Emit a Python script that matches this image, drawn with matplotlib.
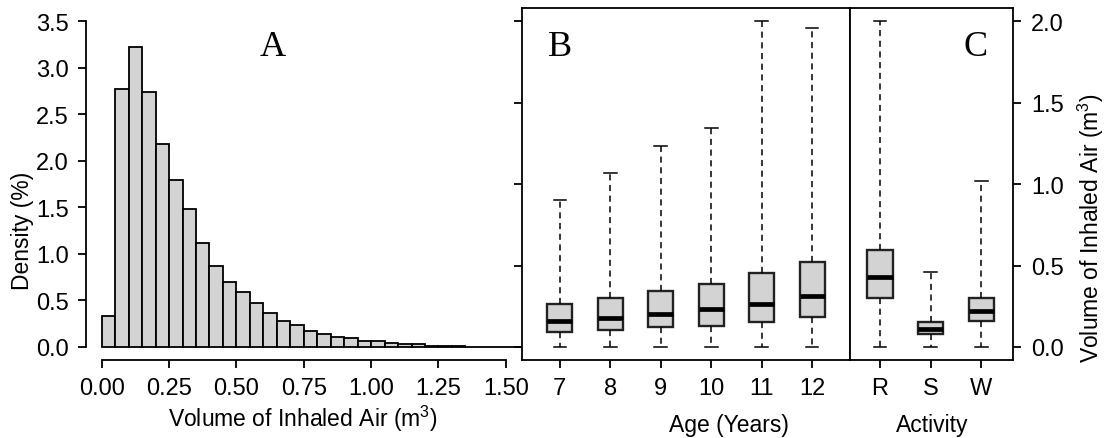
import numpy as np
import matplotlib
matplotlib.use("Agg")
import matplotlib.pyplot as plt

plt.rcParams['font.family'] = ['Liberation Sans', 'DejaVu Sans']
plt.rcParams['mathtext.fontset'] = 'custom'
plt.rcParams['mathtext.rm'] = 'Liberation Sans'
plt.rcParams['mathtext.it'] = 'Liberation Sans:italic'

# ---- Panel A: histogram data (density %, bin width 0.05) ----
bin_width = 0.05
bin_starts = [0.00, 0.05, 0.10, 0.15, 0.20, 0.25, 0.30, 0.35, 0.40, 0.45,
              0.50, 0.55, 0.60, 0.65, 0.70, 0.75, 0.80, 0.85, 0.90, 0.95,
              1.00, 1.05, 1.10, 1.15, 1.20, 1.25, 1.30, 1.35, 1.40, 1.45,
              1.50, 1.55]
density = [0.33, 2.77, 3.22, 2.74, 2.18, 1.79, 1.48, 1.12, 0.87, 0.70,
           0.59, 0.47, 0.365, 0.28, 0.236, 0.172, 0.143, 0.111, 0.093, 0.068,
           0.064, 0.047, 0.029, 0.029, 0.014, 0.011, 0.010, 0.0, 0.0, 0.0,
           0.0, 0.0]
hist_xticks = [0.00, 0.25, 0.50, 0.75, 1.00, 1.25, 1.50]
hist_yticks = [0.0, 0.5, 1.0, 1.5, 2.0, 2.5, 3.0, 3.5]

# ---- Panel B: by age ----
ages = ['7', '8', '9', '10', '11', '12']
age_whislo = [0.0, 0.0, 0.0, 0.0, 0.0, 0.0]
age_q1 = [0.090, 0.104, 0.121, 0.131, 0.151, 0.184]
age_med = [0.162, 0.176, 0.204, 0.231, 0.266, 0.311]
age_q3 = [0.266, 0.301, 0.346, 0.389, 0.452, 0.521]
age_whishi = [0.904, 1.067, 1.235, 1.344, 2.000, 1.961]

# ---- Panel C: by activity ----
activities = ['R', 'S', 'W']
act_whislo = [0.0, 0.0, 0.0]
act_q1 = [0.299, 0.078, 0.160]
act_med = [0.427, 0.110, 0.223]
act_q3 = [0.597, 0.151, 0.301]
act_whishi = [2.000, 0.462, 1.020]
vol_ticks = [0.0, 0.5, 1.0, 1.5, 2.0]

W, H = 1106, 439
fig = plt.figure(figsize=(W / 100, H / 100), dpi=100)

def rect(x0, y0, x1, y1):
    return [x0 / W, 1 - y1 / H, (x1 - x0) / W, (y1 - y0) / H]

LW = 1.3
TICKLEN = 6.0
TICK_FS = 17
LAB_FS = 16.5
FILL = '#d3d3d3'

# ---------------- Panel A ----------------
axA = fig.add_axes(rect(85.5, 9, 522, 361))
axA.bar(bin_starts, density, width=bin_width, align='edge', color=FILL,
        edgecolor='black', linewidth=1.3)
axA.set_xlim(-0.06, 1.56)
axA.set_ylim(-0.14, 3.64)
for s in ['top', 'right']:
    axA.spines[s].set_visible(False)
axA.spines['left'].set_bounds(0, 3.5)
axA.spines['bottom'].set_bounds(0, 1.5)
for s in ['left', 'bottom']:
    axA.spines[s].set_linewidth(LW)
axA.set_xticks(hist_xticks)
axA.set_xticklabels([f'{v:.2f}' for v in hist_xticks])
axA.set_yticks(hist_yticks)
axA.set_yticklabels([f'{v:.1f}' for v in hist_yticks])
axA.tick_params(axis='both', length=TICKLEN, width=LW, labelsize=TICK_FS)
axA.tick_params(axis='x', pad=6.5)
axA.tick_params(axis='y', pad=6)
axA.text(0.4296, 0.892, 'A', transform=axA.transAxes, ha='center', va='center',
         family='Liberation Serif', fontsize=26)

# ---------------- Panel B ----------------
axB = fig.add_axes(rect(522, 9.3, 850, 361))
statsB = [dict(whislo=a, q1=b, med=c, q3=d, whishi=e, label=l)
          for a, b, c, d, e, l in zip(age_whislo, age_q1, age_med, age_q3, age_whishi, ages)]
posB = [int(a) for a in ages]

# ---------------- Panel C ----------------
axC = fig.add_axes(rect(850, 9.3, 1012.7, 361))
statsC = [dict(whislo=a, q1=b, med=c, q3=d, whishi=e, label=l)
          for a, b, c, d, e, l in zip(act_whislo, act_q1, act_med, act_q3, act_whishi, activities)]
posC = [1, 2, 3]

box_kw = dict(showfliers=False, widths=0.5, patch_artist=True,
              boxprops=dict(facecolor=FILL, edgecolor='#222222', linewidth=1.7),
              medianprops=dict(color='black', linewidth=3.4, solid_capstyle='butt'),
              whiskerprops=dict(color='black', linewidth=1.1, linestyle=(0, (4, 3))),
              capprops=dict(color='black', linewidth=1.1), capwidths=0.25)
axB.bxp(statsB, positions=posB, **box_kw)
axC.bxp(statsC, positions=posC, **box_kw)

for ax in (axB, axC):
    ax.set_ylim(-0.08, 2.08)
    for s in ax.spines.values():
        s.set_linewidth(LW)
    ax.tick_params(axis='both', length=TICKLEN, width=LW, labelsize=TICK_FS)
    ax.tick_params(axis='x', pad=6.5)

axB.set_xlim(6.25, 12.75)
axB.set_xticks(posB)
axB.set_xticklabels(ages)
axB.set_yticks(vol_ticks)
axB.set_yticklabels([])
axB.text(7, 0.89, 'B', transform=axB.get_xaxis_transform(), ha='center', va='center',
         family='Liberation Serif', fontsize=26)

axC.set_xlim(0.41, 3.62)
axC.set_xticks(posC)
axC.set_xticklabels(activities)
axC.yaxis.tick_right()
axC.set_yticks(vol_ticks)
axC.set_yticklabels([f'{v:.1f}' for v in vol_ticks])
axC.tick_params(axis='y', pad=7)
axC.text(2.88, 0.89, 'C', transform=axC.get_xaxis_transform(), ha='center', va='center',
         family='Liberation Serif', fontsize=26)

# ---------------- Axis labels ----------------
fig.text(23 / W, 1 - 231 / H, 'Density (%)', rotation=90, ha='center', va='center',
         fontsize=LAB_FS)
fig.text(303 / W, 1 - 419 / H, 'Volume of Inhaled Air (m$^3$)', ha='center', va='center',
         fontsize=LAB_FS)
fig.text(729 / W, 1 - 426 / H, 'Age (Years)', ha='center', va='center', fontsize=LAB_FS)
fig.text(932 / W, 1 - 426 / H, 'Activity', ha='center', va='center', fontsize=LAB_FS)
fig.text(1091 / W, 1 - 228 / H, 'Volume of Inhaled Air (m$^3$)', rotation=90,
         ha='center', va='center', fontsize=LAB_FS)

fig.savefig('out.png', dpi=100)
